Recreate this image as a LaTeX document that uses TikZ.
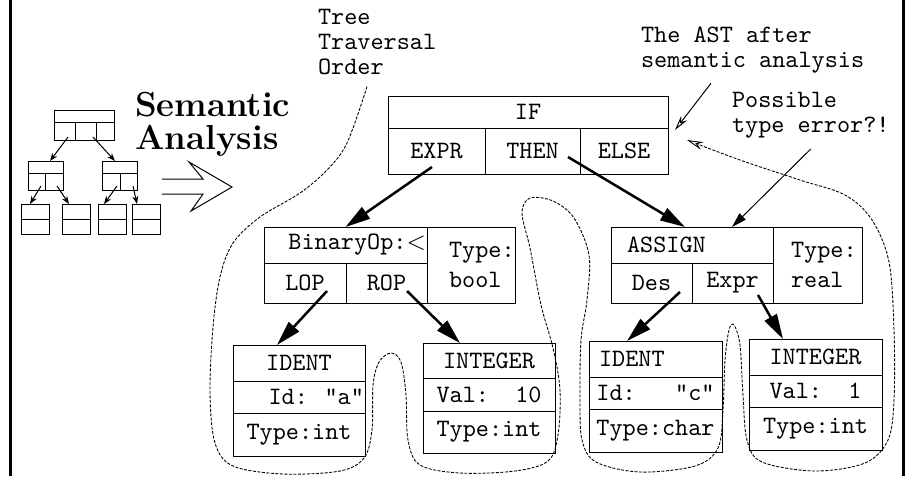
\documentclass[tikz,border=0pt]{standalone}
\usetikzlibrary{arrows.meta,calc,positioning}

\newlength\grid
\setlength\grid{0.4pt}
\tikzset{cell/.style 2 args={draw,font=\ttfamily,minimum width=#1*\grid,minimum height=#2*\grid}}

\begin{document}
\begin{tikzpicture}[x=0.4pt,y=-0.4pt,every node/.style={outer sep=0pt,inner sep=0pt}]
      \tikzstyle{link}=[line width=1pt,-{Triangle[length=10pt,width=5.5pt]}]
      \tikzstyle{minilink}=[-{Stealth[length=3.2pt,width=2.4pt]}]
      \tikzstyle{note}=[font=\fontsize{10}{10}\selectfont\ttfamily,align=left]
      \tikzstyle{trav}=[line width=0.35pt,dash pattern=on 1.2pt off 0.6pt]
      \useasboundingbox (0,0) rectangle (907,476);

      % side rules
      \draw[line width=1.2pt] (10,0) -- (10,476);
      \draw[line width=1.2pt] (903,0) -- (903,476);

      % small tree icon
      \node[cell={60}{12}] (mtop) at (84,116) {};
      \node[cell={21}{18},anchor=north west] (mtopa) at (mtop.south west) {};
      \node[cell={21}{18},anchor=west] (mtopb) at (mtopa.east) {};
      \node[cell={18}{18},anchor=west] (mtopc) at (mtopb.east) {};
      \node[cell={35}{12}] (midl) at (45.5,167) {};
      \node[cell={17}{17},anchor=north west] (midla) at (midl.south west) {};
      \node[cell={18}{17},anchor=west] (midlb) at (midla.east) {};
      \node[cell={35}{12}] (midr) at (119.5,167) {};
      \node[cell={18}{17},anchor=north west] (midra) at (midr.south west) {};
      \node[cell={17}{17},anchor=west] (midrb) at (midra.east) {};
      \foreach \x/\n in {35/a,76/b,112/c,146/d} {
        \node[cell={28}{15}] (leaf\n) at (\x,211.5) {};
        \node[cell={28}{15},anchor=north] (leaf\n low) at (leaf\n.south) {};
      }
      \draw[minilink] ($(mtopa.center)+(3.5,6)$) -- ($(midl.north)+(4.5,0)$);
      \draw[minilink] ($(mtopb.center)+(7.5,6)$) -- ($(midr.north)+(-4.5,0)$);
      \draw[minilink] ($(midla.center)+(4.5,4.5)$) -- ($(leafa.north)+(-5,0)$);
      \draw[minilink] ($(midlb.center)+(3,4.5)$) -- ($(leafb.north)+(-7,0)$);
      \draw[minilink] ($(midra.center)+(6,4.5)$) -- ($(leafc.north)+(-8,0)$);
      \draw[minilink] ($(midrb.center)+(4.5,4.5)$) -- ($(leafd.north)+(-9,0)$);

      \node[anchor=north west,align=left,font=\bfseries\fontsize{13.9}{13.2}\selectfont] (title) at (135,92) {Semantic\\Analysis};

      % hollow double arrow
      \draw (162,179) -- (203,179) -- (189,162) -- (232,187) -- (191,211) -- (203,194) -- (162,194);

      % IF node
      \node[cell={280}{32}] (ifhead) at (528,112) {IF};
      \node[cell={97}{46},anchor=north west] (ifexpr) at (ifhead.south west) {EXPR};
      \node[cell={95}{46},anchor=west] (ifthen) at (ifexpr.east) {THEN};
      \node[cell={88}{46},anchor=west] (ifelse) at (ifthen.east) {ELSE};

      % condition subtree
      \node[cell={163}{36},text width=64.4pt,align=right] (binop) at (345.5,245) {BinaryOp:$<$};
      \node[cell={82}{40},anchor=north west] (binlop) at (binop.south west) {LOP};
      \node[cell={81}{40},anchor=west] (binrop) at (binlop.east) {ROP};
      \node[cell={88}{76},anchor=north west,text width=17.6pt,align=left] (bintype) at (binop.north east) {Type:\\bool};

      \node[cell={132}{36}] (id1head) at (299,363) {IDENT};
      \node[cell={132}{32},anchor=north,text width=52pt,align=right] (id1name) at (id1head.south) {Id:~~"a"};
      \node[cell={132}{43},anchor=north] (id1type) at (id1name.south) {Type:int};

      \node[cell={132}{35}] (int1head) at (489,360.5) {INTEGER};
      \node[cell={132}{33},anchor=north] (int1val) at (int1head.south) {Val:~~10};
      \node[cell={132}{42},anchor=north] (int1type) at (int1val.south) {Type:int};

      % assignment subtree
      \node[cell={162}{36},text width=52pt,align=left] (asghead) at (692,245) {ASSIGN};
      \node[cell={81}{40},anchor=north west] (asgdes) at (asghead.south west) {Des};
      \node[cell={81}{40},anchor=west] (asgexpr) at (asgdes.east) {Expr};
      \node[cell={89}{76},anchor=north west,text width=21.2pt,align=left] (asgtype) at (asghead.north east) {Type:\\real};

      \node[cell={133}{36},text width=45.2pt,align=left] (id2head) at (655.5,359) {IDENT};
      \node[cell={133}{32},anchor=north] (id2name) at (id2head.south) {Id:~~~"c"};
      \node[cell={133}{43},anchor=north] (id2type) at (id2name.south) {Type:char};

      \node[cell={133}{36}] (int2head) at (815.5,357) {INTEGER};
      \node[cell={133}{32},anchor=north] (int2val) at (int2head.south) {Val:~~1};
      \node[cell={133}{43},anchor=north] (int2type) at (int2val.south) {Type:int};

      % tree edges
      \draw[link] ($(ifexpr.south)+(-4.5,-7)$) -- (binop.north);
      \draw[link] ($(ifthen.east)+(-12,6)$) -- ($(asghead.north)+(-7,0)$);
      \draw[link] ($(binlop.center)+(22,8)$) -- ($(id1head.north)+(-22,0)$);
      \draw[link] ($(binrop.center)+(20.5,8)$) -- ($(int1head.north)+(-29,0)$);
      \draw[link] ($(asgdes.center)+(28.5,9)$) -- ($(id2head.north)+(-28.5,0)$);
      \draw[link] ($(asgexpr.center)+(25.5,12)$) -- ($(int2head.north)+(-32.5,0)$);

      % remarks
      \node[note,anchor=north west] (travnote) at (318,9) {Tree\\Traversal\\Order};
      \node[note,anchor=north west] (astnote) at (641,27) {The AST after\\semantic analysis};
      \node[note,anchor=north west] (errnote) at (732,92) {Possible\\type error?!};
      \draw[-{Stealth[open,length=6pt,width=3pt]}] ($(astnote.south west)+(70,10)$) -- ($(ifelse.north east)+(7,2)$);
      \draw[-{Triangle[length=6pt,width=3.5pt]}] ($(errnote.south)+(0,11)$) -- ($(asghead.north)+(40,0)$);

      % walk order round the tree
      \coordinate (travstart) at ($(travnote.south)+(-10,12)$);
      \coordinate (travend) at ($(ifelse.east)+(19,-11)$);
      \draw[trav,-{Stealth[open,length=6.5pt,width=3.2pt]}] plot[smooth,tension=0.55] coordinates {
        (travstart) (347,143) (327,170) (300,193) (260,217) (233,243) (220,277) (213,327)
        (210,393) (215,443) (233,466) (283,474) (340,471) (364,458) (372,430) (373,385)
        (379,362) (391,353) (401,362) (406,395) (408,440) (420,465) (460,473) (515,471)
        (548,461) (558,435) (560,390) (553,348) (541,305) (530,248) (522,213) (530,198)
        (553,201) (574,218) (589,255) (587,300) (581,340) (580,400) (582,440) (596,462)
        (640,472) (695,466) (718,448) (723,410) (725,360) (729,330) (734,325) (740,345)
        (743,395) (747,440) (762,462) (815,471) (865,463) (888,440) (894,400) (894,330)
        (889,262) (872,220) (845,195) (800,180) (740,160) (travend)};
\end{tikzpicture}
\end{document}
